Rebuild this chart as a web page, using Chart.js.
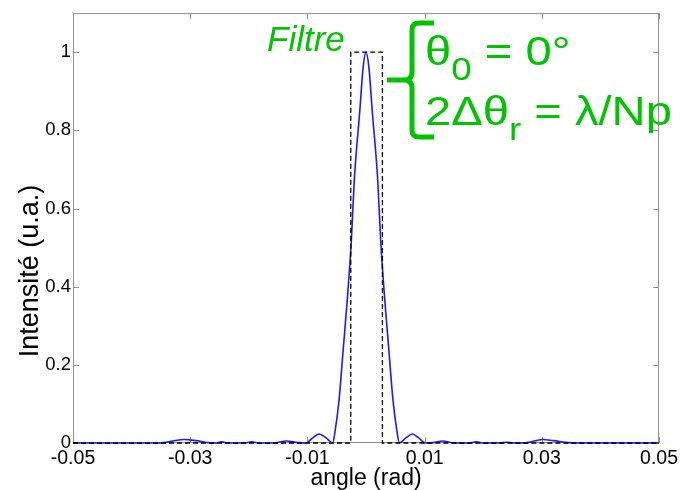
<!DOCTYPE html>
<html>
<head>
<meta charset="utf-8">
<script src="https://cdn.jsdelivr.net/npm/chart.js@4"></script>
<style>
  html, body { margin: 0; padding: 0; background: #fff; }
  #wrap { width: 682px; height: 490px; }
</style>
</head>
<body>
<div id="wrap"><canvas id="c" width="682" height="490"></canvas></div>
<script>
// ---- data ----
const angles = [
  -0.05, -0.036, -0.0345, -0.033, -0.031, -0.029, -0.027, -0.0258, -0.0246, -0.0234,
  -0.0208, -0.0195, -0.0182, -0.0158, -0.0136, -0.0116, -0.0102, -0.0092, -0.008, -0.0068,
  -0.0057, -0.00525, -0.0046, -0.0039, -0.0032, -0.0025, -0.002, -0.00105, -0.0005, 0,
  0.0005, 0.00105, 0.002, 0.0025, 0.0032, 0.0039, 0.0046, 0.00525, 0.0057,
  0.0068, 0.0079, 0.009, 0.0101, 0.0115, 0.0131, 0.015, 0.0175, 0.0188, 0.02,
  0.0228, 0.024, 0.0252, 0.0275, 0.0287, 0.0301, 0.032, 0.0345, 0.036, 0.05
];
const intensity = [
  0, 0, 0.001, 0.005, 0.009, 0.006, 0.001, 0, 0.003, 0,
  0, 0.003, 0, 0, 0.005, 0.001, 0, 0.012, 0.023, 0.013,
  0, 0.033, 0.11, 0.238, 0.366, 0.519, 0.673, 0.852, 0.96, 1,
  0.96, 0.852, 0.673, 0.519, 0.366, 0.238, 0.11, 0.033, 0,
  0.013, 0.023, 0.013, 0, 0.001, 0.005, 0, 0, 0.003, 0,
  0, 0.002, 0, 0.001, 0.005, 0.009, 0.006, 0.001, 0, 0
];
const filterAngles = [-0.05, -0.0026, -0.0026, 0.0028, 0.0028, 0.05];
const filterValues = [0, 0, 1, 1, 0, 0];
const xTicks = [-0.05, -0.03, -0.01, 0.01, 0.03, 0.05];
const yTicks = [0, 0.2, 0.4, 0.6, 0.8, 1];

const FONT = '"Liberation Sans", Arial, Helvetica, sans-serif';
const GREEN = '#00c400';
const FRAME = '#8f8f8f';
const Y_TITLE = 'Intensité (u.a.)';

const toPts = (xs, ys) => xs.map((x, i) => ({ x: x, y: ys[i] }));

// frame + inward ticks (MATLAB-like box)
const boxPlugin = {
  id: 'box',
  beforeDatasetsDraw(chart) {
    const { ctx, chartArea: a, scales: { x, y } } = chart;
    ctx.save();
    ctx.strokeStyle = FRAME;
    ctx.lineWidth = 1;
    ctx.strokeRect(a.left + 0.5, a.top + 0.5, a.right - a.left - 1, a.bottom - a.top - 1);
    const L = 6;
    ctx.beginPath();
    xTicks.forEach(v => {
      const px = Math.round(x.getPixelForValue(v)) + 0.5;
      ctx.moveTo(px, a.bottom); ctx.lineTo(px, a.bottom - L);
      ctx.moveTo(px, a.top); ctx.lineTo(px, a.top + L);
    });
    yTicks.forEach(v => {
      const py = Math.round(y.getPixelForValue(v)) + 0.5;
      ctx.moveTo(a.left, py); ctx.lineTo(a.left + L, py);
      ctx.moveTo(a.right, py); ctx.lineTo(a.right - L, py);
    });
    ctx.stroke();

    // y-axis title (placed low, as in the reference)
    ctx.fillStyle = '#000';
    ctx.font = '27px ' + FONT;
    ctx.textAlign = 'center';
    ctx.textBaseline = 'alphabetic';
    ctx.translate(38, 271);
    ctx.rotate(-Math.PI / 2);
    ctx.fillText(Y_TITLE, 0, 0);
    ctx.restore();
  }
};

// green annotation: "Filtre", brace, formulas
const notePlugin = {
  id: 'note',
  afterDraw(chart) {
    const ctx = chart.ctx;
    ctx.save();
    ctx.fillStyle = GREEN;
    ctx.strokeStyle = GREEN;
    ctx.textBaseline = 'alphabetic';
    ctx.textAlign = 'left';
    ctx.font = 'italic 35px ' + FONT;
    ctx.fillText('Filtre', 267, 51);

    // brace
    ctx.lineWidth = 5;
    ctx.lineCap = 'butt';
    ctx.lineJoin = 'round';
    ctx.beginPath();
    ctx.moveTo(434, 23);
    ctx.lineTo(419, 23);
    ctx.quadraticCurveTo(412, 23, 412, 30);
    ctx.lineTo(412, 72);
    ctx.quadraticCurveTo(412, 80, 404, 80);
    ctx.lineTo(387, 80);
    ctx.moveTo(404, 80);
    ctx.quadraticCurveTo(412, 80, 412, 88);
    ctx.lineTo(412, 130);
    ctx.quadraticCurveTo(412, 137, 419, 137);
    ctx.lineTo(434, 137);
    ctx.stroke();

    const big = '41px ' + FONT;
    const sub = '32px ' + FONT;
    const SX = 1.15;
    const run = (parts, x0, base) => {
      ctx.save();
      ctx.translate(x0, base);
      ctx.scale(SX, 1);
      let xx = 0;
      parts.forEach(p => {
        ctx.font = p[1] ? sub : big;
        ctx.fillText(p[0], xx, p[1] ? 15 : 0);
        xx += ctx.measureText(p[0]).width;
      });
      ctx.restore();
    };
    run([['θ', 0], ['0', 1], [' = 0°', 0]], 425, 65);
    run([['2Δθ', 0], ['r', 1], [' = λ/Np', 0]], 425, 125);
    ctx.restore();
  }
};

new Chart(document.getElementById('c'), {
  type: 'scatter',
  data: {
    datasets: [
      {
        label: 'Filtre',
        data: toPts(filterAngles, filterValues),
        showLine: true,
        borderColor: '#000000',
        borderWidth: 1.3,
        borderDash: [5, 3],
        pointRadius: 0,
        tension: 0,
        clip: 4
      },
      {
        label: 'Intensité',
        data: toPts(angles, intensity),
        showLine: true,
        borderColor: '#1a1aff',
        borderWidth: 1.6,
        pointRadius: 0,
        cubicInterpolationMode: 'monotone',
        clip: 4
      }
    ]
  },
  options: {
    responsive: false,
    animation: false,
    devicePixelRatio: 1,
    layout: { padding: { top: 13, right: 22, left: 0, bottom: 0 } },
    plugins: { legend: { display: false }, tooltip: { enabled: false } },
    scales: {
      x: {
        type: 'linear',
        min: -0.05, max: 0.05,
        afterBuildTicks: s => { s.ticks = xTicks.map(v => ({ value: v })); },
        afterFit: s => { s.height = 47; },
        grid: { display: false, drawTicks: false },
        border: { display: false },
        ticks: {
          autoSkip: false, maxRotation: 0, padding: 4,
          color: '#000', font: { family: FONT, size: 19.5 },
          callback: v => String(v)
        },
        title: {
          display: true, text: 'angle (rad)', color: '#000',
          font: { family: FONT, size: 23 }, padding: { top: 0, bottom: -2 }
        }
      },
      y: {
        type: 'linear',
        min: 0, max: 1.1,
        afterBuildTicks: s => { s.ticks = yTicks.map(v => ({ value: v })); },
        afterFit: s => { s.width = 73; },
        grid: { display: false, drawTicks: false },
        border: { display: false },
        ticks: {
          autoSkip: false, padding: 2,
          color: '#000', font: { family: FONT, size: 18.5 },
          callback: v => String(v)
        },
        title: { display: false }
      }
    }
  },
  plugins: [boxPlugin, notePlugin]
});
</script>
</body>
</html>
